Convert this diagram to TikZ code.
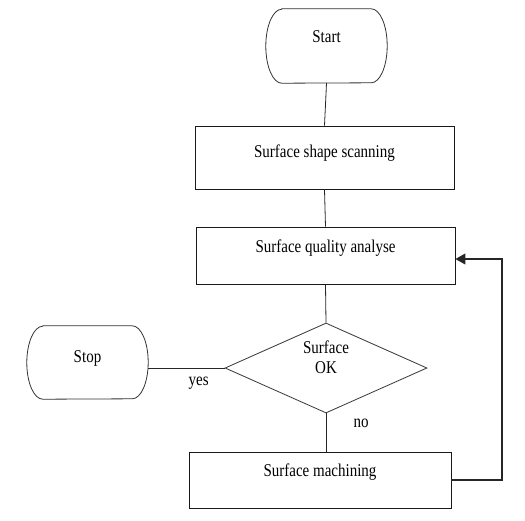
\documentclass[tikz,border=0pt]{standalone}
\usepackage{fontspec}
\setmainfont{Liberation Serif}
\usepackage{graphicx}
\usetikzlibrary{shapes.geometric,arrows.meta}
\newcommand\tx[2]{\raisebox{#1}[0pt][0pt]{\scalebox{1}[1.2]{#2}}}
\newcommand\termoutline[1]{%
  \draw[termline] ([xshift=16pt]#1.north west) -- ([xshift=-16pt]#1.north east)
    arc[start angle=90, end angle=-90, x radius=16pt, y radius=\termry]
    -- ([xshift=16pt]#1.south west)
    arc[start angle=270, end angle=90, x radius=16pt, y radius=\termry] -- cycle;}
\begin{document}
\begin{tikzpicture}[x=1pt,y=-1pt,
  every node/.style={font=\fontsize{15}{16.5}\selectfont, text=black},
  line/.style={draw=black!85, line width=0.8pt},
  termline/.style={draw=black!80, line width=0.8pt},
  boxnode/.style={draw=black!90, line width=0.9pt, rectangle, inner sep=0pt},
  term/.style={rectangle, inner sep=0pt, minimum width=121pt, minimum height=74pt},
  decision/.style={draw=black!80, line width=0.8pt, diamond, inner sep=0pt, aspect=2.24, minimum width=202pt, minimum height=90pt}]
\useasboundingbox (0,0) rectangle (525,520);
\node[term] (start) at (326.5,46) {\tx{3.5pt}{Start}};
\def\termry{37pt}\termoutline{start}
\node[boxnode, minimum width=259pt, minimum height=63pt] (b1) at (324.5,157.5) {\tx{0.5pt}{Surface shape scanning}};
\node[boxnode, minimum width=259pt, minimum height=57pt] (b2) at (325.5,255.5) {\tx{3.5pt}{Surface quality analyse}};
\node[decision] (d) at (326,368) {\raisebox{4pt}[0pt][0pt]{\scalebox{1}[1.2]{\begin{tabular}{@{}c@{}}Surface\\OK\end{tabular}}}};
\node[term, minimum height=73pt] (stop) at (87.5,362.5) {\tx{0pt}{Stop}};
\def\termry{36.5pt}\termoutline{stop}
\node[boxnode, minimum width=262pt, minimum height=56pt] (b3) at (320,480) {\tx{4pt}{Surface machining}};
\coordinate (r) at (502,480);
\draw[line] (start.south) -- (b1.north);
\draw[line] (b1.south) -- (b2.north);
\draw[line] (b2.south) -- (d.north);
\draw[line] (d.west) -- node[pos=0.34, yshift=-17pt] {\tx{0pt}{yes}} (d.west -| stop.east);
\draw[line] (d.south) -- node[pos=0.36, xshift=35pt] {\tx{0pt}{no}} (d.south |- b3.north);
\draw[line, line width=1.1pt, -{Triangle[length=10pt,width=11pt]}] (b3.east) -- (r) |- ([yshift=-3.5pt]b2.east);
\end{tikzpicture}
\end{document}
